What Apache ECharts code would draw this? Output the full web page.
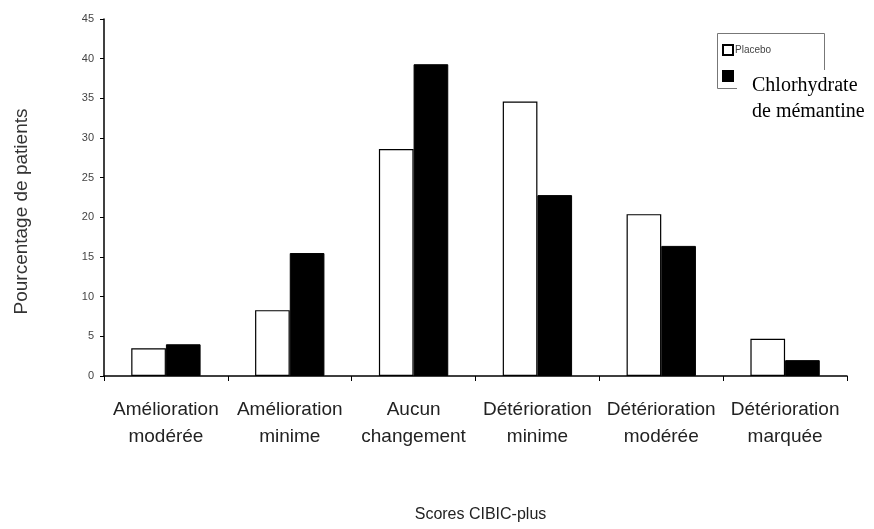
<!DOCTYPE html>
<html>
<head>
<meta charset="utf-8">
<script src="https://cdn.jsdelivr.net/npm/echarts@6/dist/echarts.min.js"></script>
<style>
html,body{margin:0;padding:0;background:#fff;}
#c{width:874px;height:529px;}
</style>
</head>
<body>
<div id="c"></div>
<script>
var categories = ['Amélioration\nmodérée', 'Amélioration\nminime', 'Aucun\nchangement', 'Détérioration\nminime', 'Détérioration\nmodérée', 'Détérioration\nmarquée'];
var placebo = [3.5, 8.3, 28.6, 34.6, 20.4, 4.7];
var memantine = [4.0, 15.5, 39.3, 22.8, 16.4, 2.0];
var seriesNames = ['Placebo', 'Chlorhydrate de mémantine'];
var yTicks = {min: 0, max: 45, interval: 5};
var xAxisName = 'Scores CIBIC-plus';
var yAxisName = 'Pourcentage de patients';

var chart = echarts.init(document.getElementById('c'));
var sans = '"Liberation Sans", Arial, sans-serif';
chart.setOption({
  animation: false,
  backgroundColor: '#fff',
  grid: {left: 104, right: 27, top: 19, bottom: 153, containLabel: false, outerBoundsMode: 'none'},
  legend: {
    orient: 'vertical',
    left: 717, top: 39,
    icon: 'rect',
    itemWidth: 10, itemHeight: 10, itemGap: 14,
    data: seriesNames,
    formatter: function (n) { return n === 'Placebo' ? n : ''; },
    textStyle: {fontSize: 10, color: '#444', fontFamily: sans, padding: [0,0,0,-3]},
    selectedMode: false
  },
  xAxis: {
    type: 'category',
    data: categories,
    name: xAxisName,
    nameLocation: 'middle',
    nameGap: 131,
    nameTextStyle: {fontSize: 16, color: '#222', fontFamily: sans, padding: [0,0,0,10]},
    axisLine: {lineStyle: {color: '#000', width: 1.5}},
    axisTick: {show: true, length: 5, lineStyle: {color: '#000'}},
    axisLabel: {interval: 0, fontSize: 19, lineHeight: 27, margin: 20, color: '#222', fontFamily: sans}
  },
  yAxis: {
    type: 'value',
    min: yTicks.min, max: yTicks.max, interval: yTicks.interval,
    name: yAxisName,
    nameLocation: 'middle',
    nameGap: 73,
    nameRotate: 90,
    nameTextStyle: {fontSize: 19, color: '#333', fontFamily: sans, padding: [0,28,0,0]},
    splitLine: {show: false},
    axisLine: {show: true, lineStyle: {color: '#000', width: 1.5}},
    axisTick: {show: true, length: 4, lineStyle: {color: '#000'}},
    axisLabel: {fontSize: 11, color: '#444', margin: 10, fontFamily: sans}
  },
  series: [
    {name: seriesNames[0], type: 'bar', data: placebo, barGap: '0%', barCategoryGap: '44%',
     itemStyle: {color: '#fff', borderColor: '#000', borderWidth: 1.2}},
    {name: seriesNames[1], type: 'bar', data: memantine, barGap: '0%', barCategoryGap: '44%',
     itemStyle: {color: '#000', borderColor: '#000', borderWidth: 1}}
  ],
  graphic: [
    {type: 'rect', left: 715, top: 31, shape: {width: 107, height: 55}, style: {fill: 'none', stroke: '#777', lineWidth: 1}, z: 1},
    {type: 'rect', left: 737, top: 70, shape: {width: 137, height: 56}, style: {fill: '#fff'}, z: 10},
    {type: 'text', left: 752, top: 73, z: 11, style: {text: 'Chlorhydrate\nde mémantine', font: '20px "Liberation Serif", "Times New Roman", serif', fill: '#000', lineHeight: 26}}
  ]
});
</script>
</body>
</html>
